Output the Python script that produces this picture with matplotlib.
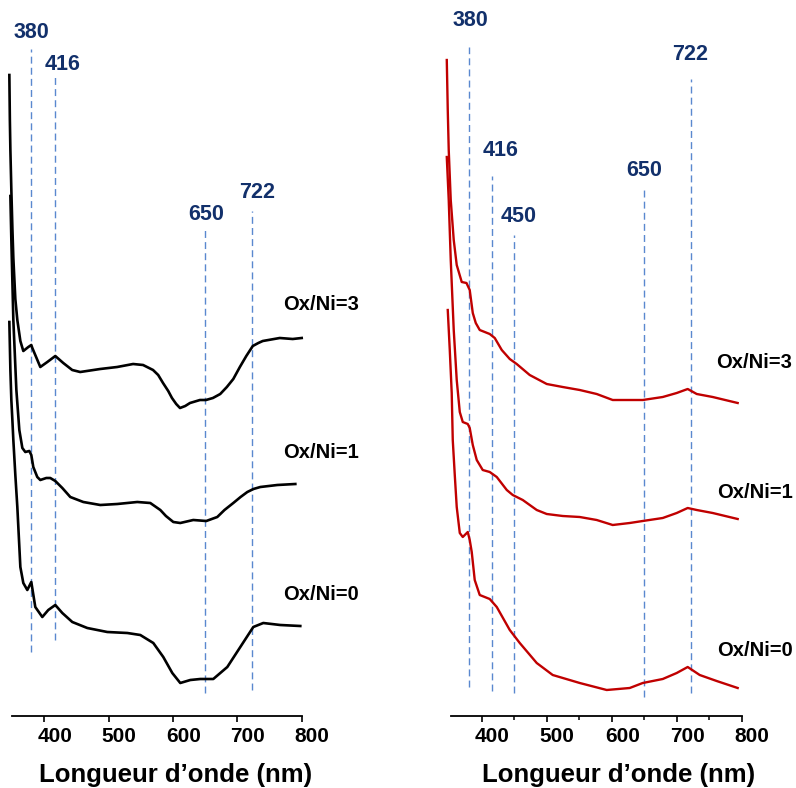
import matplotlib
matplotlib.use("Agg")
import matplotlib.pyplot as plt
from matplotlib.transforms import ScaledTranslation

plt.rcParams['font.family'] = ['Liberation Sans', 'DejaVu Sans']
plt.rcParams['font.weight'] = 'bold'

# ---- left panel (black spectra) ----
wl_k3 = [345.7, 346.5, 347.3, 348.8, 350.4, 351.9, 355.0, 358.1, 362.8, 367.4, 375.2, 379.8,
         381.4, 393.8, 404.7, 417.1, 429.5, 443.4, 455.8, 486.8, 513.2, 538.0, 553.5, 569.0,
         577.0, 584.5, 592.6, 598.4, 605.0, 610.9, 619.0, 626.4, 641.9, 651.2, 662.0, 673.4,
         683.7, 693.7, 703.9, 713.9, 724.0, 732.6, 739.5, 765.9, 786.0, 800.0]
a_k3 = [6.41, 5.96, 5.66, 5.26, 4.88, 4.58, 4.17, 3.96, 3.75, 3.65, 3.69, 3.71,
        3.68, 3.49, 3.54, 3.60, 3.53, 3.46, 3.44, 3.47, 3.49, 3.52, 3.51, 3.46,
        3.41, 3.33, 3.25, 3.18, 3.12, 3.08, 3.10, 3.13, 3.16, 3.16, 3.18, 3.22,
        3.29, 3.37, 3.49, 3.60, 3.70, 3.73, 3.75, 3.78, 3.77, 3.78]

wl_k1 = [347.3, 348.8, 351.9, 356.6, 361.2, 365.9, 370.5, 376.7, 379.8, 382.9, 389.1, 393.8,
         403.1, 409.3, 417.1, 428.0, 440.4, 460.6, 487.0, 513.4, 544.5, 564.7, 580.3, 589.0,
         600.5, 611.3, 631.5, 651.7, 668.8, 680.0, 693.7, 705.0, 715.5, 725.0, 735.7, 762.1,
         790.1]
a_k1 = [5.20, 4.76, 3.96, 3.26, 2.86, 2.68, 2.64, 2.65, 2.61, 2.49, 2.39, 2.36,
        2.38, 2.38, 2.35, 2.28, 2.19, 2.14, 2.11, 2.12, 2.14, 2.13, 2.06, 2.00,
        1.94, 1.93, 1.96, 1.95, 1.99, 2.06, 2.13, 2.19, 2.24, 2.27, 2.29, 2.31,
        2.32]

wl_k0 = [345.7, 347.3, 348.8, 350.4, 351.9, 355.0, 358.1, 362.8, 367.4, 373.6, 379.8, 386.0,
         396.9, 406.2, 417.1, 428.0, 443.5, 466.8, 497.9, 529.0, 549.2, 569.4, 584.9, 598.9,
         611.3, 626.9, 642.4, 662.6, 684.4, 704.6, 724.8, 740.3, 766.7, 797.8]
a_k0 = [3.94, 3.46, 3.16, 2.96, 2.76, 2.41, 2.09, 1.49, 1.33, 1.26, 1.34, 1.09,
        0.99, 1.06, 1.11, 1.03, 0.94, 0.88, 0.84, 0.83, 0.81, 0.73, 0.59, 0.43,
        0.33, 0.36, 0.37, 0.37, 0.49, 0.69, 0.89, 0.93, 0.91, 0.90]

# ---- right panel (red spectra) ----
wl_r3 = [346.2, 347.7, 349.2, 352.3, 356.9, 361.5, 369.2, 376.5, 381.5, 386.2, 390.8, 396.9,
         412.3, 420.0, 430.8, 443.1, 453.8, 473.8, 500.0, 524.6, 550.8, 576.9, 601.5, 627.7,
         647.7, 678.5, 700.0, 716.9, 730.8, 755.4, 793.8]
a_r3 = [6.56, 6.06, 5.66, 5.16, 4.76, 4.51, 4.34, 4.33, 4.26, 4.03, 3.93, 3.86,
        3.82, 3.78, 3.66, 3.57, 3.52, 3.41, 3.32, 3.29, 3.26, 3.22, 3.16, 3.16,
        3.16, 3.19, 3.23, 3.27, 3.22, 3.19, 3.13]

wl_r1 = [346.2, 349.2, 352.3, 356.9, 361.5, 366.2, 370.8, 378.5, 381.5, 386.2, 392.3, 401.5,
         412.3, 423.1, 438.5, 447.7, 463.1, 484.6, 500.0, 524.6, 550.8, 576.9, 601.5, 627.7,
         647.7, 678.5, 700.0, 716.9, 730.8, 755.4, 793.8]
a_r1 = [5.59, 5.16, 4.56, 3.86, 3.36, 3.04, 2.94, 2.92, 2.88, 2.71, 2.56, 2.46,
        2.44, 2.39, 2.26, 2.21, 2.16, 2.06, 2.02, 2.00, 1.99, 1.96, 1.91, 1.93,
        1.95, 1.98, 2.03, 2.08, 2.06, 2.03, 1.97]

wl_r0 = [347.7, 350.8, 353.8, 355.4, 358.5, 361.5, 366.2, 370.8, 378.5, 381.5, 384.6, 389.2,
         396.9, 412.3, 423.1, 443.1, 458.5, 484.6, 509.2, 550.8, 592.3, 627.7, 647.7, 678.5,
         700.0, 716.9, 735.4, 761.5, 793.8]
a_r0 = [4.06, 3.66, 3.23, 2.76, 2.41, 2.09, 1.83, 1.79, 1.84, 1.76, 1.64, 1.36,
        1.21, 1.17, 1.09, 0.86, 0.73, 0.53, 0.41, 0.33, 0.26, 0.28, 0.33, 0.37,
        0.43, 0.49, 0.41, 0.35, 0.28]

series_names = ['Ox/Ni=3', 'Ox/Ni=1', 'Ox/Ni=0']

# peak markers: wavelength, dashed line extent, label position
peaks_left = [380, 416, 650, 722]
left_top = [6.67, 6.39, 4.86, 5.05]
left_bot = [0.64, 0.76, 0.23, 0.26]
left_lab = [(379.3, 6.84), (428.4, 6.51), (651.4, 5.01), (730.6, 5.24)]

peaks_right = [380, 416, 450, 650, 722]
right_top = [6.69, 5.40, 4.81, 5.26, 6.37]
right_bot = [0.29, 0.25, 0.23, 0.19, 0.23]
right_lab = [(382.3, 6.95), (428.2, 5.65), (457.4, 5.00), (649.7, 5.45), (720.5, 6.62)]

left_name_pos = [(830, 4.11), (830, 2.64), (830, 1.21)]
right_name_pos = [(819.7, 3.53), (819.7, 2.24), (819.7, 0.66)]

fig = plt.figure(figsize=(7.96, 7.88), dpi=100)
ax1 = fig.add_axes([8.9 / 796, 72 / 788, 292.8 / 796, 716 / 788])
ax2 = fig.add_axes([446 / 796, 72 / 788, 295.7 / 796, 716 / 788])

navy = '#12306B'
dash_col = '#5A88CF'


def style_axis(ax, start, minor):
    ax.set_xlim(345, 800)
    ax.set_ylim(0, 7.16)
    for s in ['top', 'right', 'left']:
        ax.spines[s].set_visible(False)
    ax.spines['bottom'].set_bounds(start, 800)
    ax.spines['bottom'].set_linewidth(1.3)
    ax.set_yticks([])
    ax.set_xticks([400, 500, 600, 700, 800])
    if minor:
        ax.set_xticks([450, 550, 650, 750], minor=True)
        ax.tick_params(axis='x', which='minor', direction='out', length=3, width=1.1)
    ax.tick_params(axis='x', which='major', direction='out', length=4, width=1.2,
                   labelsize=15, pad=4)
    # tick labels sit a little right of their ticks in the original
    offset = ScaledTranslation(0.105, 0, fig.dpi_scale_trans)
    for lab in ax.get_xticklabels():
        lab.set_transform(lab.get_transform() + offset)
        lab.set_fontweight('bold')
    ax.patch.set_visible(False)


style_axis(ax1, 350, False)
style_axis(ax2, 353, True)

# dashed reference lines
for p, t, b, (lx, ly) in zip(peaks_left, left_top, left_bot, left_lab):
    ax1.plot([p, p], [b, t], color=dash_col, lw=1.0, ls=(0, (5, 3)), zorder=1)
    ax1.text(lx, ly, str(p), color=navy, fontsize=15.5, fontweight='bold',
             ha='center', va='center', clip_on=False)
for p, t, b, (lx, ly) in zip(peaks_right, right_top, right_bot, right_lab):
    ax2.plot([p, p], [b, t], color=dash_col, lw=1.0, ls=(0, (5, 3)), zorder=1)
    ax2.text(lx, ly, str(p), color=navy, fontsize=15.5, fontweight='bold',
             ha='center', va='center', clip_on=False)

# spectra
for wl, a in [(wl_k3, a_k3), (wl_k1, a_k1), (wl_k0, a_k0)]:
    ax1.plot(wl, a, color='black', lw=1.9, solid_joinstyle='round', clip_on=False, zorder=3)
for wl, a in [(wl_r3, a_r3), (wl_r1, a_r1), (wl_r0, a_r0)]:
    ax2.plot(wl, a, color='#C00000', lw=1.7, solid_joinstyle='round', clip_on=False, zorder=3)

for name, (x, y) in zip(series_names, left_name_pos):
    ax1.text(x, y, name, fontsize=14.5, fontweight='bold', ha='center', va='center',
             clip_on=False)
for name, (x, y) in zip(series_names, right_name_pos):
    ax2.text(x, y, name, fontsize=14.5, fontweight='bold', ha='center', va='center',
             clip_on=False)

ax1.set_xlabel('Longueur d\u2019onde (nm)', fontsize=18.5, fontweight='bold', va='center')
ax2.set_xlabel('Longueur d\u2019onde (nm)', fontsize=18.5, fontweight='bold', va='center')
ax1.xaxis.set_label_coords(0.569, -59 / 716)
ax2.xaxis.set_label_coords(0.585, -59 / 716)

fig.savefig('out.png', dpi=100)
